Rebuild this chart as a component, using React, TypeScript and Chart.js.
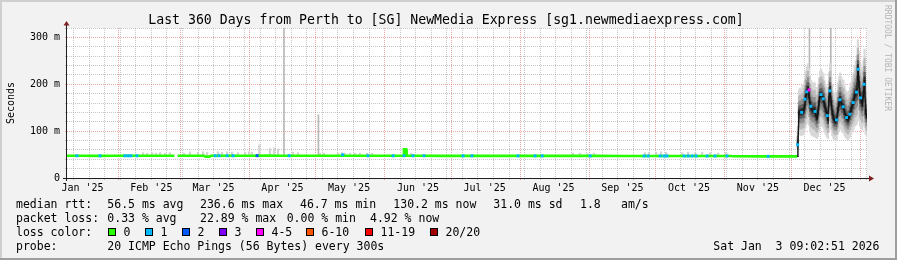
import React, { useEffect, useRef } from 'react';
import { Chart, registerables } from 'chart.js';

Chart.register(...registerables);

// ---------- text ----------
const TITLE = 'Last 360 Days from Perth to [SG] NewMedia Express [sg1.newmediaexpress.com]';
const Y_TITLE = 'Seconds';
const WATERMARK = 'RRDTOOL / TOBI OETIKER';
const TIMESTAMP = 'Sat Jan  3 09:02:51 2026';
const PROBE_TEXT = '20 ICMP Echo Pings (56 Bytes) every 300s';

// ---------- x axis (days since 2025-01-01 00:00) ----------
const X_START = 8.04;
const X_END = 368.1;
const MONTH_STARTS = [31, 59, 90, 120, 151, 181, 212, 243, 273, 304, 334, 365];
const MONTH_LABEL_DAYS = [15, 46, 74, 105, 135, 166, 196, 227, 258, 288, 319, 349];
const MONTH_LABELS = ["Jan '25", "Feb '25", "Mar '25", "Apr '25", "May '25", "Jun '25", "Jul '25", "Aug '25", "Sep '25", "Oct '25", "Nov '25", "Dec '25"];
const FIRST_SUNDAY = 4; // 2025-01-05

// ---------- y axis (ms) ----------
const Y_MAX = 320;
const Y_STEP = 20;

// ---------- median rtt, flat period (loss 0) ----------
const flatDays = [8.04, 15, 22, 29, 36, 43, 50, 56.4, 57.1, 57.8, 63, 69.8, 70.4, 72.2, 72.8, 77, 84, 91, 98, 105, 112, 119, 126, 133, 140, 147, 154, 159.5, 159.7, 160.7, 160.9, 168, 175, 189, 203, 217, 231, 245, 259, 273, 287, 300, 307, 308, 322, 336.8];
const flatRtt = [47.4, 47.5, 47.3, 47.5, 47.4, 47.6, 47.5, 47.4, null, 47.4, 47.6, 47.4, 45.6, 45.6, 47.4, 47.5, 47.6, 47.6, 47.7, 47.6, 47.5, 47.5, 47.4, 47.4, 47.4, 47.4, 47.4, 47.4, 61, 61, 47.4, 47.4, 47.3, 47.3, 47.2, 47.2, 47.2, 47.1, 47.0, 47.0, 47.0, 47.0, 47.0, 46.3, 46.2, 46.2];

// ---------- December period: median, min and max ping ----------
const decDays = [336.8, 337.0, 337.5, 338.0, 338.5, 339.0, 339.5, 340.0, 340.5, 341.0, 341.5, 342.0, 342.5, 343.0, 343.5, 344.0, 344.5, 345.0, 345.5, 346.0, 346.5, 347.0, 347.5, 348.0, 348.5, 349.0, 349.5, 350.0, 350.5, 351.0, 351.5, 352.0, 352.5, 353.0, 353.5, 354.0, 354.5, 355.0, 355.5, 356.0, 356.5, 357.0, 357.5, 358.0, 358.5, 359.0, 359.5, 360.0, 360.5, 361.0, 361.5, 362.0, 362.5, 363.0, 363.5, 364.0, 364.5, 365.0, 365.5, 366.0, 366.5, 367.0, 367.5, 368.0];
const decRtt = [46.2, 72, 140, 142, 139, 143, 141, 152, 172, 184, 190, 176, 157, 150, 146, 143, 146, 135, 128, 140, 160, 177, 178, 174, 168, 156, 145, 138, 126, 168, 190, 160, 140, 128, 122, 120, 125, 145, 158, 168, 160, 154, 152, 140, 132, 128, 124, 130, 137, 146, 154, 162, 175, 180, 184, 236, 200, 174, 166, 158, 178, 209, 140, 130];
const decMin = [46.2, 60, 92, 92, 90, 92, 92, 98, 108, 116, 120, 112, 98, 92, 90, 88, 90, 86, 84, 88, 98, 112, 112, 110, 106, 98, 93, 88, 84, 102, 116, 102, 90, 84, 81, 80, 82, 93, 100, 108, 103, 98, 96, 90, 86, 84, 81, 85, 88, 94, 98, 103, 110, 112, 115, 135, 122, 110, 106, 102, 112, 126, 93, 88];
const decMax = [46.2, 110, 188, 192, 188, 198, 198, 208, 228, 238, 244, 234, 218, 208, 204, 198, 204, 194, 184, 194, 214, 228, 232, 226, 222, 208, 198, 194, 184, 224, 244, 216, 198, 184, 178, 176, 182, 204, 216, 224, 216, 210, 208, 196, 188, 184, 180, 186, 194, 204, 214, 224, 240, 250, 260, 295, 270, 245, 236, 228, 250, 275, 204, 194];

// ---------- light smoke above the flat median ----------
const flatSmokeDays = [42.3, 44.1, 46.3, 48.1, 49.9, 52.2, 54.4, 60.7, 63.4, 67.0, 69.3, 71.1, 76.0, 77.8, 80.1, 82.3, 85.0, 88.2, 90.0, 91.3, 94.6, 99.4, 101.2, 103.0, 109.8, 112.0, 121.9, 123.7, 130.0, 131.8, 133.2, 135.4, 137.7, 139.9, 143.1, 145.3, 160.2, 162.9, 235.8, 238.9, 242.1, 245.2, 268.2, 270.0, 273.2, 275.4, 277.7, 284.9, 287.6, 290.8, 293.9, 297.5, 301.1, 304.7];
const flatSmokeMax = [54, 53, 54, 53, 54, 53, 54, 53, 56, 55, 56, 55, 56, 55, 56, 55, 54, 55, 56, 55, 71, 63, 64, 62, 55, 54, 53, 53, 53, 54, 53, 53, 53, 53, 53, 53, 62, 53, 53, 53, 52, 53, 54, 55, 55, 56, 55, 54, 55, 54, 55, 54, 53, 54];

// ---------- single outlier pings ----------
const spikeDays = [105.7, 121.2, 342.2, 351.8];
const spikeFrom = [48, 48, 190, 190];
const spikeTo = [330, 135, 330, 330];

// ---------- packet-loss marks on the median ----------
const lossDays = [12.5, 22.9, 34.1, 35.5, 36.8, 39.5, 74.7, 76.5, 80.1, 82.8, 93.6, 108.0, 132.1, 143.5, 154.8, 159.7, 163.8, 168.7, 186.3, 190.3, 211.0, 218.7, 221.9, 243.5, 267.8, 269.6, 275.0, 276.8, 278.1, 285.8, 287.6, 289.4, 291.2, 296.1, 299.7, 305.1, 323.6, 336.9, 338.7, 340.2, 341.0, 342.0, 342.8, 344.7, 347.4, 348.4, 350.2, 351.4, 354.4, 355.9, 357.4, 358.9, 360.4, 361.9, 363.4, 364.1, 365.2, 366.8];
const lossRtt = [47.4, 47.3, 47.4, 47.4, 47.4, 47.4, 47.4, 47.5, 47.5, 47.5, 47.6, 47.6, 49.5, 47.4, 47.4, 47.4, 47.4, 47.4, 47.3, 47.3, 47.2, 47.2, 47.2, 47.1, 47.0, 47.0, 47.0, 47.0, 47.0, 47.0, 47.0, 47.0, 47.0, 47.0, 47.0, 47.0, 46.2, 71, 140, 168, 184, 188, 153, 142, 178, 169, 133, 186, 124, 167, 152, 129, 136, 161, 183, 232, 171, 200];
const lossPings = [1, 1, 1, 1, 1, 1, 1, 1, 1, 1, 2, 1, 1, 1, 1, 1, 1, 1, 1, 1, 1, 1, 1, 1, 1, 1, 1, 1, 1, 1, 1, 1, 1, 1, 1, 1, 1, 1, 1, 1, 1, 4, 1, 1, 1, 1, 1, 1, 1, 1, 1, 1, 1, 1, 1, 1, 1, 1];

// ---------- legend ----------
const LOSS_LABELS = ['0', '1', '2', '3', '4-5', '6-10', '11-19', '20/20'];
const LOSS_COLORS = ['#26ff00', '#00b8ff', '#0059ff', '#7e00ff', '#ff00ff', '#ff5500', '#ff0000', '#a10000'];
const RTT_STATS = ['56.5 ms avg', '236.6 ms max', '46.7 ms min', '130.2 ms now', '31.0 ms sd', '1.8', 'am/s'];
const LOSS_STATS = ['0.33 % avg', '22.89 % max', '0.00 % min', '4.92 % now'];

// ---------- style ----------
const MONO = '"DejaVu Sans Mono", monospace';
const MINOR_GRID = 'rgba(143,143,143,0.5)';
const MAJOR_GRID = 'rgba(222,79,79,0.5)';
const ARROW = 'rgb(128,31,31)';
const SMOKE_LAYERS = [
  { f: 1.0, color: '#d8d8d8' },
  { f: 0.7, color: '#b8b8b8' },
  { f: 0.45, color: '#8e8e8e' },
  { f: 0.25, color: '#5c5c5c' },
  { f: 0.1, color: '#2c2c2c' },
];

function lossColor(n: number): string {
  if (n <= 0) return LOSS_COLORS[0];
  if (n <= 3) return LOSS_COLORS[n];
  if (n <= 5) return LOSS_COLORS[4];
  if (n <= 10) return LOSS_COLORS[5];
  if (n <= 19) return LOSS_COLORS[6];
  return LOSS_COLORS[7];
}

const isMonthStart = (v: number) => MONTH_STARTS.includes(v);
const isSunday = (v: number) => Number.isInteger(v) && (v - FIRST_SUNDAY) % 7 === 0;

function xTickValues(): number[] {
  const s = new Set<number>();
  for (let d = FIRST_SUNDAY; d <= X_END; d += 7) if (d >= X_START) s.add(d);
  MONTH_STARTS.forEach((d) => d >= X_START && d <= X_END && s.add(d));
  MONTH_LABEL_DAYS.forEach((d) => s.add(d));
  return Array.from(s).sort((a, b) => a - b);
}

const rrdPlugin = {
  id: 'rrdLook',
  beforeDraw(chart: any) {
    const { ctx, chartArea: a, width, height } = chart;
    ctx.save();
    ctx.fillStyle = '#f2f2f2';
    ctx.fillRect(0, 0, width, height);
    ctx.fillStyle = '#ffffff';
    ctx.fillRect(a.left, a.top, a.right - a.left, a.bottom - a.top);
    ctx.fillStyle = '#cfcfcf';
    ctx.fillRect(0, 0, width, 2);
    ctx.fillRect(0, 0, 2, height);
    ctx.fillStyle = '#9e9e9e';
    ctx.fillRect(0, height - 2, width, 2);
    ctx.fillRect(width - 2, 0, 2, height);
    ctx.restore();
  },
  afterDraw(chart: any) {
    const { ctx, chartArea: a } = chart;
    const yZero = chart.scales.y.getPixelForValue(0);
    ctx.save();
    // axes
    ctx.strokeStyle = '#1f1f1f';
    ctx.lineWidth = 1;
    ctx.beginPath();
    ctx.moveTo(a.left - 0.5, a.bottom + 3);
    ctx.lineTo(a.left - 0.5, a.top - 3);
    ctx.moveTo(a.left - 4, Math.round(yZero) + 0.5);
    ctx.lineTo(a.right + 3, Math.round(yZero) + 0.5);
    ctx.stroke();
    ctx.fillStyle = ARROW;
    ctx.beginPath();
    ctx.moveTo(a.left - 3.5, a.top - 2.5);
    ctx.lineTo(a.left - 0.5, a.top - 7);
    ctx.lineTo(a.left + 2.5, a.top - 2.5);
    ctx.closePath();
    ctx.fill();
    const yy = Math.round(yZero) + 0.5;
    ctx.beginPath();
    ctx.moveTo(a.right + 2, yy - 3);
    ctx.lineTo(a.right + 7, yy);
    ctx.lineTo(a.right + 2, yy + 3);
    ctx.closePath();
    ctx.fill();

    // title
    ctx.fillStyle = '#000';
    ctx.font = `13.2px ${MONO}`;
    ctx.textAlign = 'center';
    ctx.textBaseline = 'alphabetic';
    ctx.fillText(TITLE, 446, 24);

    // y title
    ctx.save();
    ctx.font = `10px ${MONO}`;
    ctx.translate(14, (a.top + a.bottom) / 2);
    ctx.rotate(-Math.PI / 2);
    ctx.fillText(Y_TITLE, 0, 0);
    ctx.restore();

    // watermark
    ctx.save();
    ctx.font = `8px ${MONO}`;
    ctx.fillStyle = '#b4b4b4';
    ctx.textAlign = 'left';
    ctx.translate(885, 5);
    ctx.rotate(Math.PI / 2);
    ctx.fillText(WATERMARK, 0, 0);
    ctx.restore();

    // legend
    ctx.font = `11.5px ${MONO}`;
    ctx.textAlign = 'left';
    ctx.fillStyle = '#000';
    const rttX = [107.3, 200, 300, 393.3, 493.3, 580, 621];
    ctx.fillText('median rtt:', 16, 208);
    RTT_STATS.forEach((t, i) => ctx.fillText(t, rttX[i], 208));
    const lossX = [107.3, 200, 286.7, 370];
    ctx.fillText('packet loss:', 16, 222);
    LOSS_STATS.forEach((t, i) => ctx.fillText(t, lossX[i], 222));
    ctx.fillText('loss color:', 16, 236);
    const boxX = [108, 145, 182, 219, 256, 306, 365, 430];
    LOSS_LABELS.forEach((lab, i) => {
      ctx.fillStyle = '#000';
      ctx.fillRect(boxX[i], 228, 8, 8);
      ctx.fillStyle = LOSS_COLORS[i];
      ctx.fillRect(boxX[i] + 1, 229, 6, 6);
      ctx.fillStyle = '#000';
      ctx.fillText(lab, boxX[i] + 15.5, 236);
    });
    ctx.fillText('probe:', 16, 250);
    ctx.fillText(PROBE_TEXT, 107.3, 250);
    ctx.fillText(TIMESTAMP, 713.3, 250);
    ctx.restore();
  },
};

function buildConfig(): any {
  const datasets: any[] = [];

  datasets.push({
    type: 'bar',
    label: 'outliers',
    data: spikeDays.map((d, i) => ({ x: d, y: [spikeFrom[i], spikeTo[i]] })),
    backgroundColor: '#b8b8b8',
    barThickness: 1,
    grouped: false,
    borderWidth: 0,
    order: 20,
  });

  datasets.push({
    type: 'bar',
    label: 'light smoke',
    data: flatSmokeDays.map((d, i) => ({ x: d, y: [46, flatSmokeMax[i]] })),
    backgroundColor: '#d4d4d4',
    barThickness: 1.6,
    grouped: false,
    borderWidth: 0,
    order: 15,
  });

  SMOKE_LAYERS.forEach((layer, k) => {
    datasets.push({
      type: 'bar',
      label: 'smoke ' + k,
      data: decDays.map((d, i) => {
        const m = decRtt[i];
        return { x: d, y: [m - layer.f * (m - decMin[i]), m + layer.f * (decMax[i] - m)] };
      }),
      backgroundColor: layer.color,
      barThickness: 1.5,
      grouped: false,
      borderWidth: 0,
      order: 14 - k,
    });
  });

  datasets.push({
    type: 'line',
    label: 'median flat',
    data: flatDays.map((d, i) => ({ x: d, y: flatRtt[i] })),
    borderColor: LOSS_COLORS[0],
    borderWidth: 2.6,
    pointRadius: 0,
    spanGaps: false,
    tension: 0,
    order: 3,
  });

  datasets.push({
    type: 'line',
    label: 'median dec',
    data: decDays.map((d, i) => ({ x: d, y: decRtt[i] })),
    borderColor: '#141414',
    borderWidth: 1.4,
    pointRadius: 0,
    tension: 0,
    order: 2,
  });

  datasets.push({
    type: 'line',
    label: 'loss',
    data: lossDays.map((d, i) => ({ x: d, y: lossRtt[i] })),
    showLine: false,
    pointStyle: 'rect',
    pointRadius: 2.1,
    pointBorderWidth: 0,
    pointBackgroundColor: lossPings.map((n) => lossColor(n)),
    order: 1,
  });

  const ticks = xTickValues();

  return {
    type: 'line',
    data: { datasets },
    plugins: [rrdPlugin],
    options: {
      responsive: false,
      animation: false,
      events: [],
      devicePixelRatio: 1,
      layout: { padding: { top: 28, right: 30, left: 0, bottom: 0 } },
      plugins: { legend: { display: false }, tooltip: { enabled: false } },
      scales: {
        x: {
          type: 'linear',
          min: X_START,
          max: X_END,
          offset: false,
          afterBuildTicks: (scale: any) => {
            scale.ticks = ticks.map((v) => ({ value: v }));
          },
          afterFit: (scale: any) => {
            scale.height = 82;
          },
          grid: {
            offset: false,
            lineWidth: 1,
            tickLength: 2,
            color: (c: any) => {
              const v = c.tick ? c.tick.value : NaN;
              if (isMonthStart(v)) return MAJOR_GRID;
              if (isSunday(v)) return MINOR_GRID;
              return 'rgba(0,0,0,0)';
            },
          },
          border: { display: false, dash: [1, 1] },
          ticks: {
            autoSkip: false,
            maxRotation: 0,
            minRotation: 0,
            padding: 2,
            color: '#000',
            font: { family: MONO, size: 10 },
            callback: (v: number) => {
              const idx = MONTH_LABEL_DAYS.indexOf(v);
              return idx >= 0 ? MONTH_LABELS[idx] : '';
            },
          },
        },
        y: {
          type: 'linear',
          min: 0,
          max: Y_MAX,
          afterFit: (scale: any) => {
            scale.width = 67;
          },
          grid: {
            lineWidth: 1,
            tickLength: 2,
            color: (c: any) => {
              const v = c.tick ? c.tick.value : NaN;
              if (v === 0) return 'rgba(0,0,0,0)';
              if (v % 100 === 0) return MAJOR_GRID;
              return MINOR_GRID;
            },
          },
          border: { display: false, dash: [1, 1] },
          ticks: {
            stepSize: Y_STEP,
            autoSkip: false,
            padding: 5,
            color: '#000',
            font: { family: MONO, size: 10 },
            callback: (v: number) => (v === 0 ? '0' : v % 100 === 0 ? `${v} m` : ''),
          },
        },
      },
    },
  };
}

export default function App() {
  const ref = useRef<HTMLCanvasElement>(null);
  useEffect(() => {
    document.body.style.margin = '0';
    const chart = new Chart(ref.current as HTMLCanvasElement, buildConfig());
    return () => chart.destroy();
  }, []);
  return <canvas ref={ref} width={897} height={260} style={{ display: 'block', width: 897, height: 260 }} />;
}
